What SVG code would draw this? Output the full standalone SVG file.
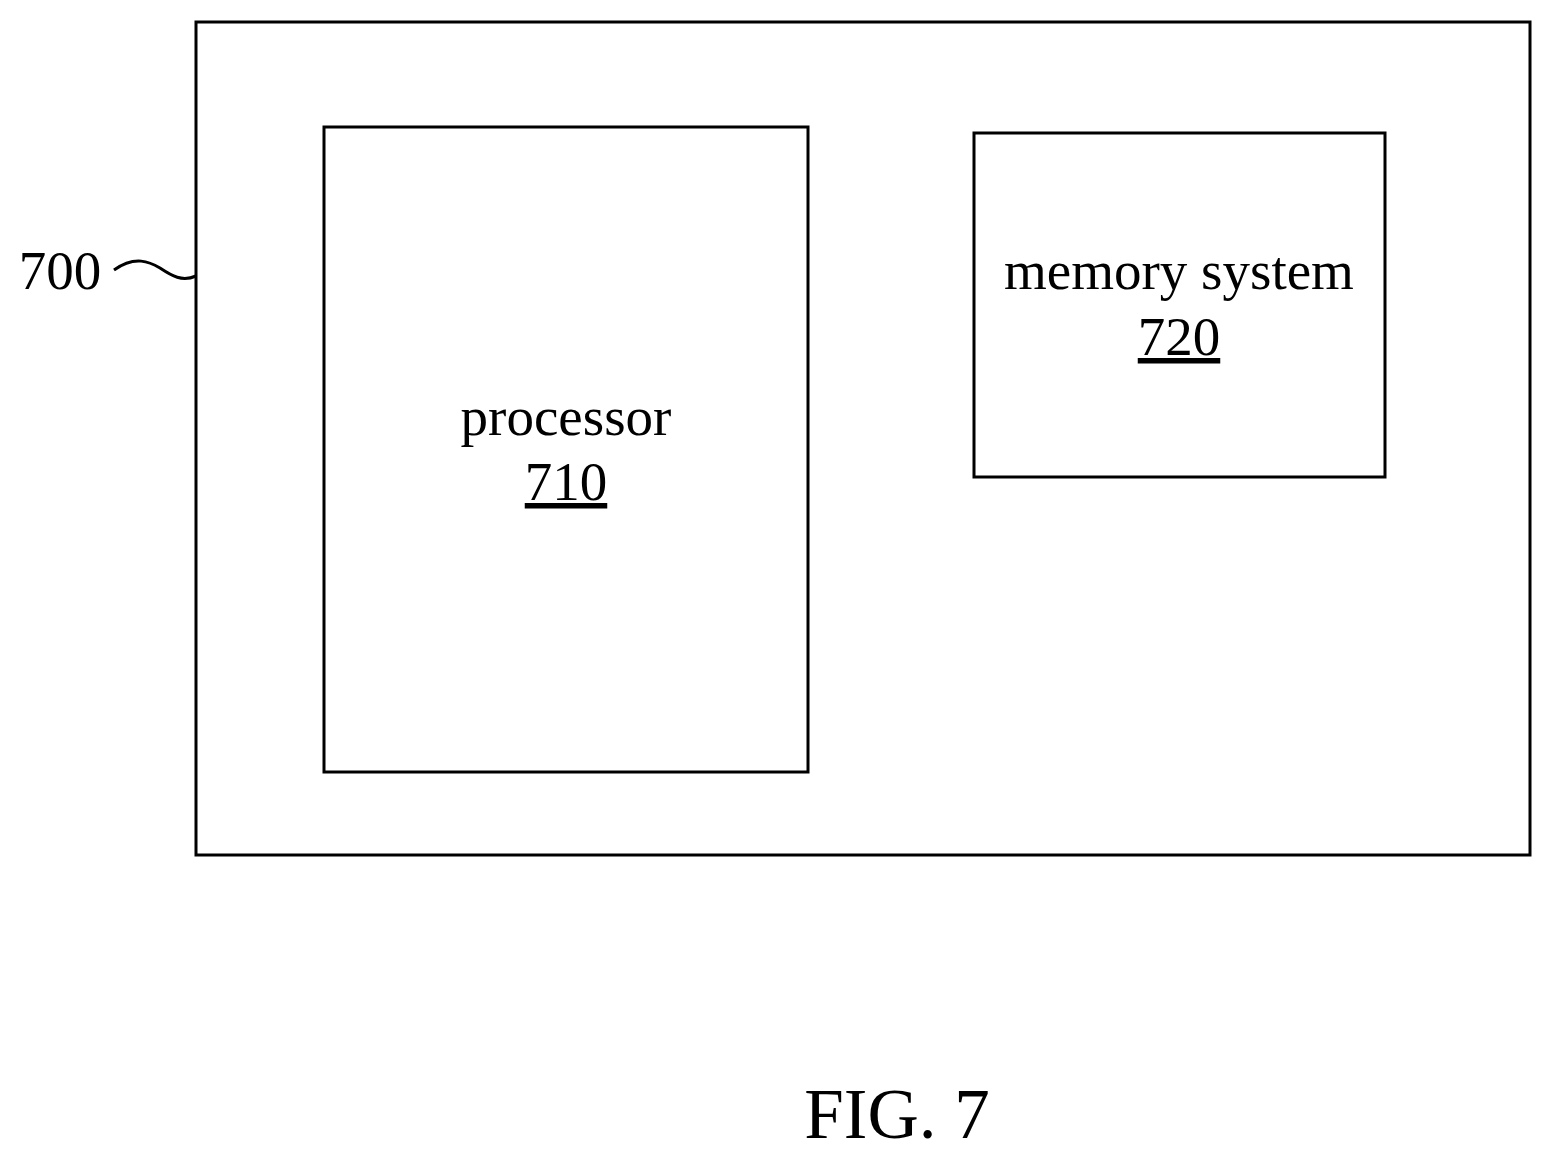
<svg xmlns="http://www.w3.org/2000/svg" width="1552" height="1159" viewBox="0 0 1552 1159">
<style>
.b{fill:none;stroke:#000;stroke-width:3}
.t{font-family:"Liberation Serif",serif;font-size:55px;fill:#000;text-anchor:middle}
</style>
<rect width="1552" height="1159" fill="#fff"/>
<g id="system700">
<rect class="b" x="196" y="22" width="1334" height="833"/>
<text class="t" x="60" y="289">700</text>
</g>
<g id="connectors">
<path class="b" d="M114 270 C135 255,150 262,160 268 C172 276,182 282,196 276"/>
</g>
<g id="processor710">
<rect class="b" x="324" y="127" width="484" height="645"/>
<text class="t" x="566" y="435">processor</text>
<text class="t" x="566" y="500" text-decoration="underline">710</text>
</g>
<g id="memory720">
<rect class="b" x="974" y="133" width="411" height="344"/>
<text class="t" x="1179" y="289">memory system</text>
<text class="t" x="1179" y="355" text-decoration="underline">720</text>
</g>
<text class="t" x="897" y="1138" style="font-size:71px">FIG. 7</text>
</svg>
